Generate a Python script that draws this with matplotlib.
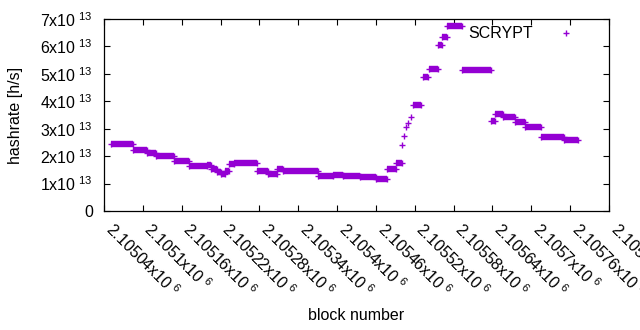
import numpy as np
import matplotlib
matplotlib.use("Agg")
import matplotlib.pyplot as plt

plt.rcParams['font.family'] = ['Liberation Sans', 'DejaVu Sans']
plt.rcParams['mathtext.default'] = 'regular'

# flat stretches of the hashrate (same difficulty): first block, last block, h/s
seg_start = [2105051, 2105085, 2105106, 2105120, 2105148, 2105171, 2105199, 2105205,
             2105215, 2105221, 2105227, 2105233, 2105241, 2105276, 2105293, 2105307,
             2105317, 2105371, 2105394, 2105409, 2105435, 2105460, 2105477, 2105491,
             2105517, 2105533, 2105542, 2105556, 2105562, 2105570, 2105593, 2105638,
             2105644, 2105656, 2105675, 2105690, 2105715, 2105750]
seg_end = [2105085, 2105106, 2105120, 2105148, 2105171, 2105199, 2105205, 2105215,
           2105221, 2105227, 2105233, 2105241, 2105276, 2105293, 2105307, 2105317,
           2105371, 2105394, 2105409, 2105435, 2105460, 2105477, 2105491, 2105500,
           2105530, 2105540, 2105556, 2105562, 2105570, 2105593, 2105638, 2105644,
           2105656, 2105675, 2105690, 2105715, 2105750, 2105772]
seg_rate = [2.45e13, 2.21e13, 2.10e13, 2.02e13, 1.81e13, 1.63e13, 1.68e13, 1.53e13,
            1.42e13, 1.36e13, 1.47e13, 1.71e13, 1.74e13, 1.45e13, 1.34e13, 1.53e13,
            1.45e13, 1.29e13, 1.31e13, 1.26e13, 1.25e13, 1.18e13, 1.54e13, 1.75e13,
            3.88e13, 4.90e13, 5.19e13, 6.04e13, 6.33e13, 6.73e13, 5.15e13, 3.28e13,
            3.52e13, 3.44e13, 3.23e13, 3.05e13, 2.70e13, 2.58e13]

# single points during the fast climb
pt_block = [2105501, 2105503, 2105507, 2105510, 2105514]
pt_rate = [2.41e13, 2.73e13, 3.05e13, 3.22e13, 3.41e13]

xtick_vals = list(range(2105040, 2105821, 60))
ytick_vals = [0, 1e13, 2e13, 3e13, 4e13, 5e13, 6e13, 7e13]

color = '#9400d3'
fs = 11.5

fig = plt.figure(figsize=(6.4, 3.3), dpi=100)
ax = fig.add_axes([104 / 640, 1 - 211 / 330, 505 / 640, 192 / 330])

for s, e, v in zip(seg_start, seg_end, seg_rate):
    ax.plot([s, e], [v, v], '-', color=color, lw=4.6, solid_capstyle='butt',
            marker='+', ms=4.8, mew=1.0)
ax.plot(pt_block, pt_rate, linestyle='none', marker='+', color=color,
        ms=4.8, mew=1.0, label='SCRYPT')

ax.set_xlim(2105040, 2105820)
ax.set_ylim(0, 7e13)

ax.set_xticks(xtick_vals)
ax.set_xticklabels([f'{v / 1e6:g}x10$^{{\\ 6}}$' for v in xtick_vals],
                   rotation=-45, ha='left', va='baseline', rotation_mode='anchor')
ax.set_yticks(ytick_vals)
ax.set_yticklabels(['0' if v == 0 else f'{v / 1e13:.0f}x10$^{{\\ 13}}$' for v in ytick_vals])

ax.tick_params(direction='in', length=4, width=0.8, top=True, right=True,
               labelsize=fs, colors='black')
ax.tick_params(axis='x', pad=14)
ax.tick_params(axis='y', pad=8)
for sp in ax.spines.values():
    sp.set_linewidth(0.9)

ax.set_xlabel('block number', fontsize=fs)
ax.xaxis.set_label_coords(0.5, -0.545)
ax.xaxis.label.set_va('center')
ax.set_ylabel('hashrate [h/s]', fontsize=fs)
ax.yaxis.set_label_coords(-0.176, 0.5)
ax.yaxis.label.set_va('center')

ax.legend(loc='upper right', bbox_to_anchor=(0.9465, 0.962), frameon=False,
          markerfirst=False, fontsize=fs, handlelength=2, handletextpad=1.1,
          borderpad=0, borderaxespad=0)

fig.savefig('out.png', dpi=100)
